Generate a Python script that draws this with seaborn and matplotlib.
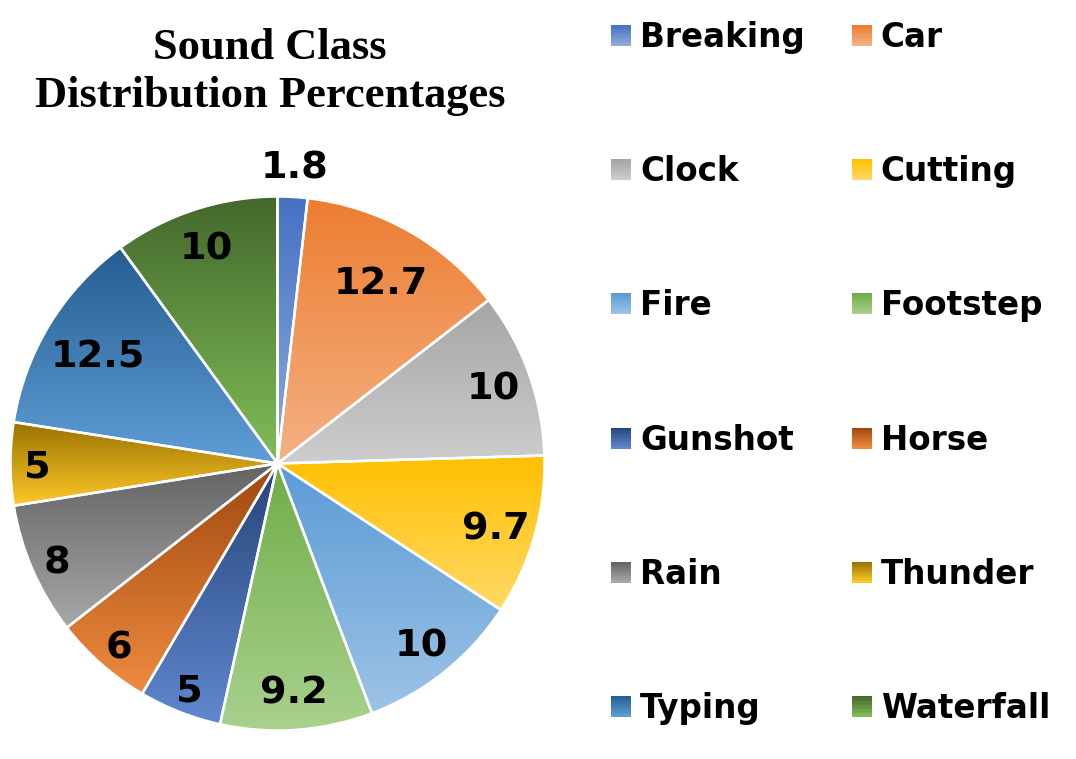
import numpy as np
import matplotlib
matplotlib.use("Agg")
import matplotlib.pyplot as plt
from matplotlib.patches import Patch, Rectangle
from matplotlib.legend_handler import HandlerBase
import seaborn as sns

# =========================================================
# DATA
# =========================================================

classes = ["Breaking", "Car", "Clock", "Cutting", "Fire", "Footstep",
           "Gunshot", "Horse", "Rain", "Thunder", "Typing", "Waterfall"]
percentages = [1.8, 12.7, 10, 9.7, 10, 9.2, 5, 6, 8, 5, 12.5, 10]
labels = ["1.8", "12.7", "10", "9.7", "10", "9.2", "5", "6", "8", "5", "12.5", "10"]

# gradient colours (top -> bottom of each slice)
top_colors = ["#4472C4", "#ED7D31", "#A5A5A5", "#FFC000", "#5B9BD5", "#70AD47",
              "#264478", "#9E480E", "#636363", "#997300", "#255E91", "#43682B"]
bottom_colors = ["#8FAADC", "#F4B183", "#CDCDCD", "#FFD966", "#9DC3E6", "#A9D18E",
                 "#6088D0", "#F08B40", "#A8A8A8", "#FFC82A", "#5E9DD6", "#80BD58"]

# =========================================================
# STYLE
# =========================================================

sns.set_theme(style="white")
plt.rcParams["font.family"] = ["DejaVu Sans"]
plt.rcParams["text.color"] = "black"


class GradientHandler(HandlerBase):
    def __init__(self, top, bottom, n=16):
        super().__init__()
        self.cols = sns.blend_palette([top, bottom], n)

    def create_artists(self, legend, orig_handle, xdescent, ydescent,
                       width, height, fontsize, trans):
        n = len(self.cols)
        arts = []
        for i, c in enumerate(self.cols):
            y = -ydescent + height * (1 - (i + 1) / n)
            r = Rectangle((-xdescent, y), width, height / n + 0.05,
                          facecolor=c, edgecolor="none", transform=trans)
            arts.append(r)
        return arts


W, H = 1076, 759
fig = plt.figure(figsize=(W / 100, H / 100), dpi=100)

cx, cy, R = 277.5, 463.5, 267
ax = fig.add_axes([(cx - R) / W, (H - cy - R) / H, 2 * R / W, 2 * R / H])

wedges, _ = ax.pie(percentages, startangle=90, counterclock=False, radius=1,
                   wedgeprops=dict(edgecolor="white", linewidth=1.8))

for w, lab, top, bot in zip(wedges, labels, top_colors, bottom_colors):
    t = np.radians(np.linspace(w.theta1, w.theta2, 200))
    xs = np.concatenate([[0], np.cos(t) * w.r])
    ys = np.concatenate([[0], np.sin(t) * w.r])
    grad = np.array(sns.blend_palette([top, bot], 256))[:, None, :3]
    im = ax.imshow(grad, extent=[xs.min(), xs.max(), ys.min(), ys.max()],
                   origin="upper", aspect="auto", interpolation="bilinear", zorder=1)
    im.set_clip_path(w)
    w.set_facecolor("none")
    w.set_zorder(2)

    # label placement (Excel "best fit" like)
    mid = np.radians((w.theta1 + w.theta2) / 2)
    frac = (w.theta2 - w.theta1) / 360
    if frac < 0.03:
        dist = 1.12
    else:
        dist = {1: 0.9, 2: 0.86, 3: 0.85}.get(len(lab), 0.79)
    ax.text(dist * np.cos(mid), dist * np.sin(mid), lab, ha="center",
            va="center_baseline", fontsize=27.5, fontweight="bold",
            color="black", zorder=3)

ax.set_xlim(-1, 1)
ax.set_ylim(-1, 1)
ax.set_aspect("equal")
ax.axis("off")

# title
fig.text(270 / W, 1 - 72 / H, "Sound Class\nDistribution Percentages",
         ha="center", va="center", fontsize=32, fontweight="bold", color="black",
         family=["Liberation Serif", "DejaVu Serif"], linespacing=1.28)

# legend (row-major order in 2 columns)
handles = [Patch(facecolor=t) for t in top_colors]
hmap = {h: GradientHandler(t, b) for h, t, b in zip(handles, top_colors, bottom_colors)}
order = list(range(0, 12, 2)) + list(range(1, 12, 2))
leg = fig.legend([handles[i] for i in order], [classes[i] for i in order],
                 handler_map=hmap, ncol=2, loc="upper left",
                 bbox_to_anchor=(611 / W, 1 - 21 / H), frameon=False, borderpad=0,
                 prop=dict(size=23.5, weight="bold"),
                 handlelength=0.61, handleheight=0.61, handletextpad=0.28,
                 columnspacing=1.44, labelspacing=3.10, borderaxespad=0)
for txt in leg.get_texts():
    txt.set_color("black")

fig.savefig("out.png", dpi=100)
